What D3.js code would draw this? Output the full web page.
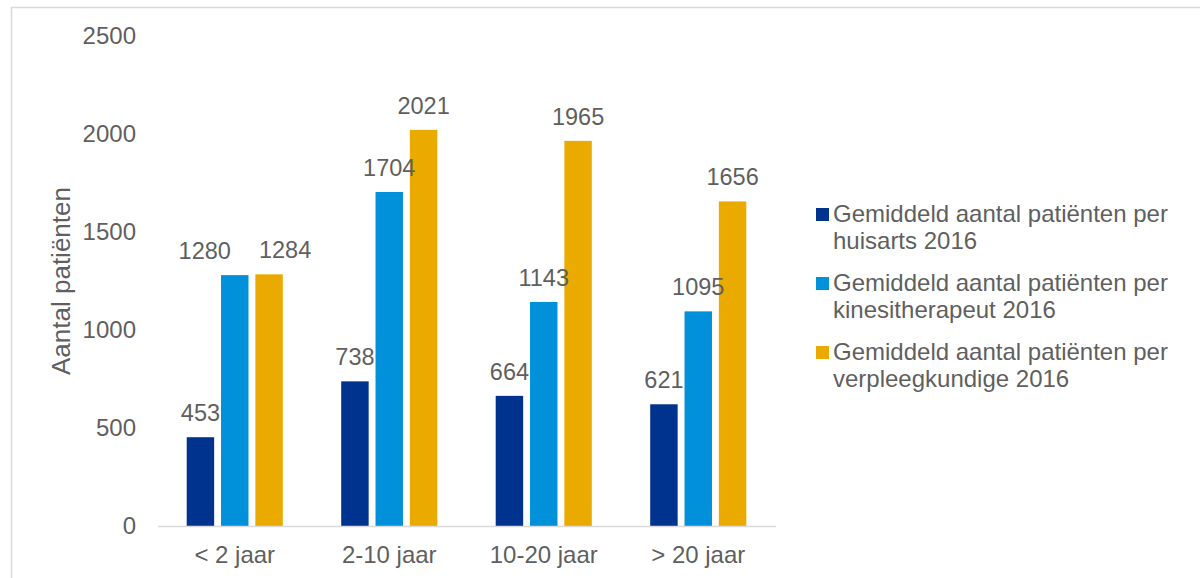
<!DOCTYPE html>
<html>
<head>
<meta charset="utf-8">
<script src="https://cdn.jsdelivr.net/npm/d3@7"></script>
<style>
  body { margin: 0; background: #fff; }
  svg text { font-family: "Liberation Sans", Arial, sans-serif; fill: #5f5f5f; }
</style>
</head>
<body>
<div id="container"></div>
<script>
const categories = ["< 2 jaar", "2-10 jaar", "10-20 jaar", "> 20 jaar"];
const seriesNames = [
  ["Gemiddeld aantal patiënten per", "huisarts 2016"],
  ["Gemiddeld aantal patiënten per", "kinesitherapeut 2016"],
  ["Gemiddeld aantal patiënten per", "verpleegkundige 2016"]
];
const huisarts = [453, 738, 664, 621];
const kine = [1280, 1704, 1143, 1095];
const verpleeg = [1284, 2021, 1965, 1656];
const yTicks = [0, 500, 1000, 1500, 2000, 2500];
const colors = ["#00338d", "#0091da", "#eaaa00"];

const w = 1200;
const h = 578;
const series = [huisarts, kine, verpleeg];

// labels that were pushed apart in the original so they don't collide
const labelNudge = { "0-1": -30, "0-2": 16 };

const svg = d3
  .select("#container")
  .append("svg")
  .attr("width", w)
  .attr("height", h);

// chart frame (runs off the right and bottom edge)
svg
  .append("rect")
  .attr("x", 11.5)
  .attr("y", 7.5)
  .attr("width", 1250)
  .attr("height", 650)
  .attr("fill", "none")
  .attr("stroke", "#d9d9d9")
  .attr("stroke-width", 1.5);

const x0 = d3
  .scaleBand()
  .domain(categories)
  .range([157.5, 775.5])
  .paddingInner(0.378)
  .paddingOuter(0.189);

const x1 = d3
  .scaleBand()
  .domain([0, 1, 2])
  .range([0, x0.bandwidth()])
  .paddingInner(0.2);

const yScale = d3.scaleLinear().domain([0, 2500]).range([526, 36]);

// y tick labels
svg
  .append("g")
  .selectAll("text")
  .data(yTicks)
  .enter()
  .append("text")
  .attr("x", 136)
  .attr("y", (d) => yScale(d))
  .attr("dy", "0.35em")
  .attr("text-anchor", "end")
  .style("font-size", "24px")
  .text((d) => d);

// bars
const groups = svg
  .append("g")
  .selectAll("g")
  .data(categories)
  .enter()
  .append("g")
  .attr("transform", (d) => "translate(" + x0(d) + ",0)");

groups
  .selectAll("rect")
  .data((d, i) => series.map((s, k) => ({ i: i, k: k, v: s[i] })))
  .enter()
  .append("rect")
  .attr("x", (d) => x1(d.k))
  .attr("y", (d) => yScale(d.v))
  .attr("width", x1.bandwidth())
  .attr("height", (d) => yScale(0) - yScale(d.v))
  .attr("fill", (d) => colors[d.k]);

groups
  .selectAll("text")
  .data((d, i) => series.map((s, k) => ({ i: i, k: k, v: s[i] })))
  .enter()
  .append("text")
  .attr(
    "x",
    (d) => x1(d.k) + x1.bandwidth() / 2 + (labelNudge[d.i + "-" + d.k] || 0)
  )
  .attr("y", (d) => yScale(d.v) - 16)
  .attr("text-anchor", "middle")
  .style("font-size", "23.5px")
  .text((d) => d.v);

// x axis
const xAxis = svg
  .append("g")
  .attr("transform", "translate(0," + yScale(0) + ")")
  .call(d3.axisBottom(x0).tickSize(0).tickPadding(0));
xAxis.select(".domain").attr("stroke", "#d9d9d9").attr("stroke-width", 1.5);
xAxis
  .selectAll("text")
  .attr("dy", null)
  .attr("y", 37)
  .style("font-size", "24px")
  .style("font-family", '"Liberation Sans", Arial, sans-serif')
  .attr("fill", "#5f5f5f");

// y axis title
svg
  .append("text")
  .attr("transform", "translate(70," + yScale(1250) + ") rotate(-90)")
  .attr("text-anchor", "middle")
  .style("font-size", "26px")
  .text("Aantal patiënten");

// legend
const legend = svg
  .append("g")
  .selectAll("g")
  .data(seriesNames)
  .enter()
  .append("g")
  .attr("transform", (d, i) => "translate(816," + (222 + i * 69) + ")");

legend
  .append("rect")
  .attr("x", 0)
  .attr("y", -14)
  .attr("width", 13)
  .attr("height", 13)
  .attr("fill", (d, i) => colors[i]);

legend
  .append("text")
  .attr("x", 17)
  .style("font-size", "24px")
  .selectAll("tspan")
  .data((d) => d)
  .enter()
  .append("tspan")
  .attr("x", 17)
  .attr("dy", (d, i) => (i === 0 ? 0 : 27))
  .text((d) => d);
</script>
</body>
</html>
